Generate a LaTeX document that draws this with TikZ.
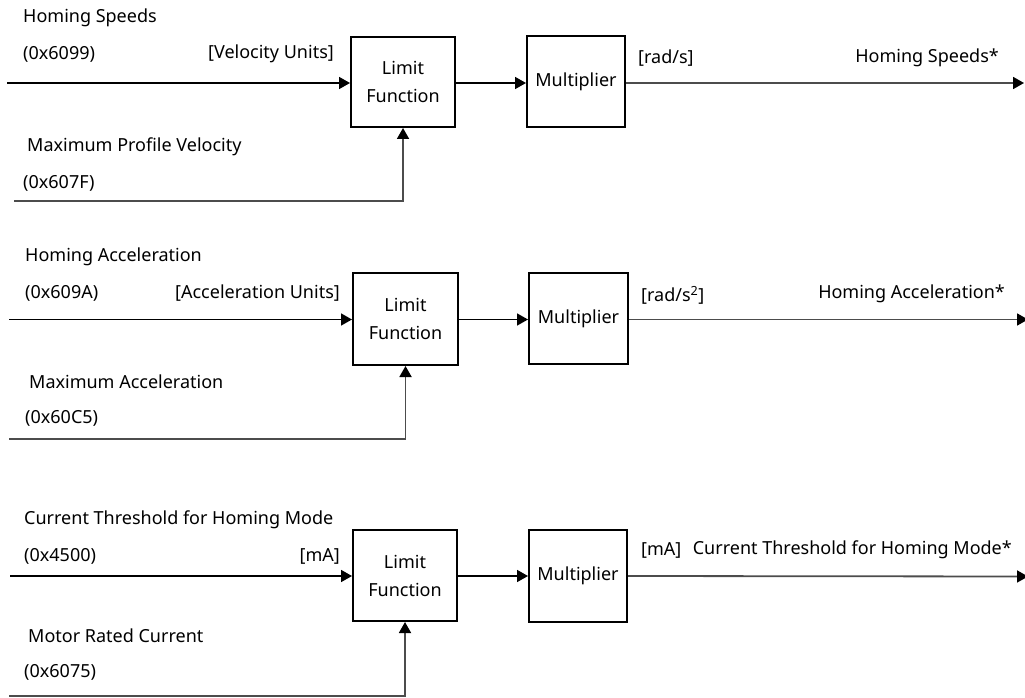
\documentclass[tikz,border=0pt]{standalone}
\usepackage{fontspec}
\setmainfont{Noto Sans}
\usetikzlibrary{arrows.meta}
\tikzset{
  blk/.style={draw=black, line width=2pt, fill=white, align=center, inner sep=0pt, font=\fontsize{18}{28}\selectfont},
  lbl/.style={inner sep=0pt, font=\fontsize{18}{20}\selectfont},
  sig/.style={draw=black, line width=1.6pt, -{Triangle[length=11pt,width=12pt]}},
  sigg/.style={draw=black!70, line width=1.8pt, -{Triangle[length=11pt,width=12pt,color=black]}}
}
\begin{document}
\begin{tikzpicture}[x=1pt,y=-1pt]
\useasboundingbox (0,0) rectangle (1025,698);
% ---------- section 1 ----------
\node[blk, minimum width=104pt, minimum height=90pt] (lim1) at (403,82) {Limit\\Function};
\node[blk, minimum width=98pt, minimum height=91pt] (mul1) at (576,82) {Multiplier};
\coordinate (in1) at (7,83);
\coordinate (low1) at (14,201);
\coordinate (out1) at (1024,83);
\draw[sig] (in1) -- (in1 -| lim1.west);
\draw[sigg] (low1) -| (lim1.south);
\draw[sig] (lim1.east |- in1) -- (in1 -| mul1.west);
\draw[sigg] (mul1.east |- in1) -- (out1);
\node[lbl, anchor=west] (t1a) at (23,18) {Homing Speeds};
\node[lbl, anchor=west] (t1b) at (23,54) {(0x6099)};
\node[lbl, anchor=east] (t1c) at (334,54) {[Velocity Units]};
\node[lbl, anchor=west] (t1d) at (27,147) {Maximum Profile Velocity};
\node[lbl, anchor=west] (t1e) at (23,183) {(0x607F)};
\node[lbl, anchor=west] (t1f) at (638,58) {[rad/s]};
\node[lbl, anchor=east] (t1g) at (999,58) {Homing Speeds*};
% ---------- section 2 ----------
\node[blk, minimum width=105pt, minimum height=92pt] (lim2) at (405.5,319) {Limit\\Function};
\node[blk, minimum width=99pt, minimum height=91pt] (mul2) at (578.5,318.5) {Multiplier};
\coordinate (in2) at (9,319.5);
\coordinate (low2) at (9,439);
\coordinate (out2) at (1028,319.5);
\draw[sig] (in2) -- (in2 -| lim2.west);
\draw[sigg] (low2) -| (lim2.south);
\draw[sig] (lim2.east |- in2) -- (in2 -| mul2.west);
\draw[sigg] (mul2.east |- in2) -- (out2);
\node[lbl, anchor=west] (t2a) at (25,257) {Homing Acceleration};
\node[lbl, anchor=west] (t2b) at (25,293) {(0x609A)};
\node[lbl, anchor=east] (t2c) at (340,293) {[Acceleration Units]};
\node[lbl, anchor=west] (t2d) at (29,382) {Maximum Acceleration};
\node[lbl, anchor=west] (t2e) at (25,418) {(0x60C5)};
\node[lbl, anchor=west] (t2f) at (641,295) {[rad/s\textsuperscript{2}]};
\node[lbl, anchor=east] (t2g) at (1005,294) {Homing Acceleration*};
% ---------- section 3 ----------
\node[blk, minimum width=104pt, minimum height=91pt] (lim3) at (405,575.5) {Limit\\Function};
\node[blk, minimum width=98pt, minimum height=92pt] (mul3) at (578,576) {Multiplier};
\coordinate (in3) at (10,576);
\coordinate (low3) at (9,696);
\coordinate (out3) at (1028,576.5);
\draw[sig] (in3) -- (in3 -| lim3.west);
\draw[sigg] (low3) -| (lim3.south);
\draw[sig] (lim3.east |- in3) -- (in3 -| mul3.west);
\draw[sigg] (mul3.east |- in3) -- (out3);
\node[lbl, anchor=west] (t3a) at (24,520) {Current Threshold for Homing Mode};
\node[lbl, anchor=west] (t3b) at (24,556) {(0x4500)};
\node[lbl, anchor=east] (t3c) at (340,556) {[mA]};
\node[lbl, anchor=west] (t3d) at (28,636) {Motor Rated Current};
\node[lbl, anchor=west] (t3e) at (24,672) {(0x6075)};
\node[lbl, anchor=west] (t3f) at (641,550) {[mA]};
\node[lbl, anchor=east] (t3g) at (1012,550) {Current Threshold for Homing Mode*};
\end{tikzpicture}
\end{document}
